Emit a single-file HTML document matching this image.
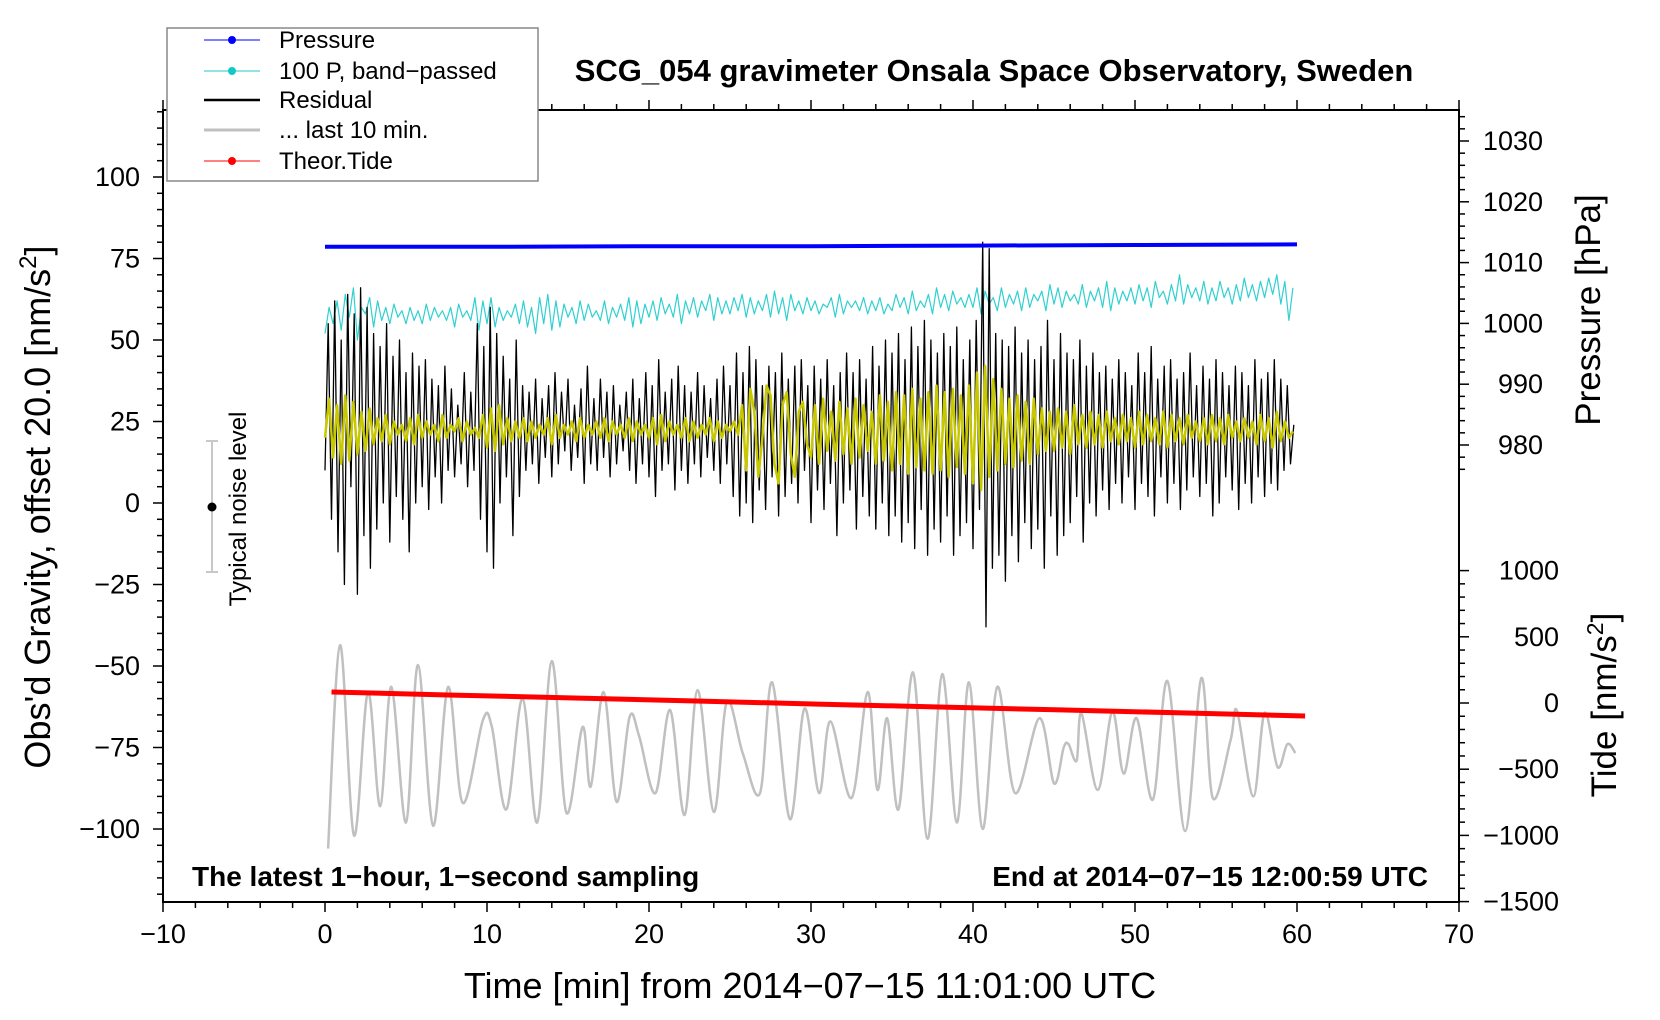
<!DOCTYPE html>
<html><head><meta charset="utf-8">
<style>
html,body{margin:0;padding:0;background:#fff;}
svg{display:block;font-family:"Liberation Sans",Arial,sans-serif;}
</style></head>
<body>
<svg id="chart" width="1660" height="1020" viewBox="0 0 1660 1020">
  <text x="994" y="81" font-size="31" font-weight="bold" text-anchor="middle">SCG_054 gravimeter Onsala Space Observatory, Sweden</text>
  <g id="ticks"></g>
  <g id="series"></g>
  <rect x="163" y="110" width="1296" height="792" fill="none" stroke="#000" stroke-width="2"/>
  <text transform="translate(50,507) rotate(-90)" font-size="36" text-anchor="middle">Obs'd Gravity, offset 20.0 [nm/s<tspan font-size="24" dy="-14">2</tspan><tspan dy="14">]</tspan></text>
  <text transform="translate(1600,310) rotate(-90)" font-size="35" text-anchor="middle">Pressure [hPa]</text>
  <text transform="translate(1616,705) rotate(-90)" font-size="35" text-anchor="middle">Tide [nm/s<tspan font-size="23" dy="-13">2</tspan><tspan dy="13">]</tspan></text>
  <text x="810" y="998" font-size="36" text-anchor="middle">Time [min] from 2014−07−15 11:01:00 UTC</text>
  <text x="192" y="886" font-size="28" font-weight="bold">The latest 1−hour, 1−second sampling</text>
  <text x="1428" y="886" font-size="28" font-weight="bold" text-anchor="end">End at 2014−07−15 12:00:59 UTC</text>
  <g>
    <line x1="212" y1="441" x2="212" y2="572" stroke="#c8c8c8" stroke-width="2"/>
    <line x1="206" y1="441" x2="218" y2="441" stroke="#c8c8c8" stroke-width="2"/>
    <line x1="206" y1="572" x2="218" y2="572" stroke="#c8c8c8" stroke-width="2"/>
    <circle cx="212" cy="507" r="4.5" fill="#000"/>
    <text transform="translate(246,509) rotate(-90)" font-size="24" text-anchor="middle">Typical noise level</text>
  </g>
  <g>
    <rect x="167" y="28" width="371" height="153" fill="#fff" stroke="#888" stroke-width="1.5"/>
    <g><line x1="204" y1="40" x2="260" y2="40" stroke="#00f" stroke-width="1"/><circle cx="232" cy="40" r="4" fill="#00f"/><text x="279" y="48" font-size="24">Pressure</text></g>
    <g><line x1="204" y1="71" x2="260" y2="71" stroke="#20c8c8" stroke-width="1"/><circle cx="232" cy="71" r="4" fill="#10c8c8"/><text x="279" y="79" font-size="24">100 P, band−passed</text></g>
    <g><line x1="204" y1="100" x2="260" y2="100" stroke="#000" stroke-width="2.5"/><text x="279" y="108" font-size="24">Residual</text></g>
    <g><line x1="204" y1="130" x2="260" y2="130" stroke="#c0c0c0" stroke-width="3"/><text x="279" y="138" font-size="24">... last 10 min.</text></g>
    <g><line x1="204" y1="161" x2="260" y2="161" stroke="#f00" stroke-width="1"/><circle cx="232" cy="161" r="4" fill="#f00"/><text x="279" y="169" font-size="24">Theor.Tide</text></g>
  </g>
</svg>
<script>
// ---- data ----
const xTicks = [-10,0,10,20,30,40,50,60,70];
const yTicks = [-100,-75,-50,-25,0,25,50,75,100];
const pTicks = [980,990,1000,1010,1020,1030];
const tideTicks = [-1500,-1000,-500,0,500,1000];
const residualStep = 0.2;
const residual = [
10,55,-5,62,-15,50,-25,64,5,58,
-28,66,-10,60,-20,52,-8,48,0,55,
-12,45,2,50,-5,40,-15,46,0,42,
5,44,-2,38,8,36,0,42,10,35,
8,30,12,40,5,34,10,55,-5,48,
-15,60,-20,52,0,45,8,38,-10,50,
2,36,10,34,12,38,6,32,14,36,
8,40,12,34,16,38,10,30,14,35,
6,42,12,32,10,38,14,34,8,36,
12,30,16,34,10,38,6,32,12,40,
8,36,2,44,10,34,12,38,4,42,
10,36,6,34,12,40,8,36,14,32,
10,38,6,42,12,36,2,46,-4,40,
0,48,-6,44,4,36,-2,42,8,40,
-4,46,2,38,6,42,0,44,10,36,
-6,42,4,38,-2,44,6,36,-10,40,
0,46,4,40,-8,44,2,38,-4,48,
-8,42,0,50,-10,46,-4,52,-12,44,
-6,54,-14,48,-2,56,-16,50,-8,46,
-12,52,-4,48,-16,54,-10,44,-6,50,
-14,56,-2,80,-38,78,-20,52,-16,50,
-24,48,-10,54,-18,46,-6,50,-14,44,
-8,48,-20,56,-4,44,-16,52,-10,46,
-6,44,2,50,-12,42,0,46,-4,40,
4,42,-2,38,6,44,0,40,8,36,
-2,46,6,40,2,48,-4,38,8,42,
0,44,6,38,-2,40,4,46,8,36,
2,42,6,38,-4,44,0,40,8,36,
4,42,-2,40,6,36,0,44,8,38,
2,40,6,44,4,38,10,36,12,24];
const yellowStep = 0.25;
const yellow = [
20,32,14,30,12,33,13,31,15,28,
16,29,18,26,19,27,18,25,21,24,
19,26,18,27,20,25,21,24,19,27,
20,24,22,26,19,25,21,23,20,27,
17,29,16,30,18,26,19,25,20,26,
19,25,20,24,21,26,18,27,20,24,
21,25,19,26,20,24,21,25,20,26,
19,25,21,24,20,26,19,25,21,24,
20,26,18,27,19,25,21,24,20,26,
19,25,20,24,21,26,19,25,20,24,
22,25,21,30,10,35,28,8,20,36,
33,12,6,30,34,15,8,28,31,18,
14,30,12,32,16,28,13,31,15,29,
12,32,14,30,16,28,12,33,13,31,
10,34,12,33,9,35,11,32,10,34,
9,36,10,34,8,35,11,33,9,36,
6,40,4,42,8,38,10,35,12,32,
11,33,13,31,12,32,15,29,16,28,
16,29,17,28,15,30,18,27,17,28,
18,27,17,28,19,26,18,27,19,26,
17,28,18,27,19,26,18,28,17,27,
19,26,18,27,20,25,19,26,18,27,
19,26,18,27,20,25,19,26,20,25,
18,27,19,26,17,28,19,25,20,22];
const cyanStep = 0.25;
const cyan = [
52,60,55,62,53,64,57,66,50,60,
58,63,54,62,56,60,55,61,57,59,
55,60,56,59,55,61,56,60,57,59,
56,60,54,61,57,59,56,63,53,62,
55,63,54,60,56,59,57,61,55,62,
54,60,52,63,55,64,53,62,54,61,
57,60,55,62,56,61,57,59,56,62,
55,60,57,61,56,63,54,62,55,61,
57,62,56,63,58,61,57,64,55,62,
58,63,57,62,59,64,56,63,58,62,
58,63,59,64,57,63,58,62,59,64,
57,65,58,63,56,64,59,62,58,63,
59,62,58,61,60,63,57,64,58,62,
60,62,59,63,58,62,59,63,58,61,
59,64,60,63,58,65,59,62,60,64,
58,66,60,64,59,65,61,63,60,64,
60,66,58,65,61,63,59,66,60,64,
61,65,59,66,60,64,62,65,59,67,
61,66,60,65,62,64,61,67,60,65,
62,66,60,68,59,66,61,65,62,66,
61,67,62,66,60,68,63,65,61,67,
62,70,61,67,63,66,62,68,61,66,
62,68,63,66,61,67,62,69,63,67,
62,68,63,69,64,70,61,68,56,66];
const grayTimes = [0.19,0.93,1.79,2.65,3.4,4.1,5.0,5.74,6.67,7.6,8.5,9.75,10.3,11.2,12.2,13.1,14.0,14.9,15.9,16.4,17.2,18.0,18.8,19.4,20.4,21.3,22.2,23.0,24.0,24.8,25.8,26.85,27.6,28.7,29.6,30.5,31.2,32.5,33.5,34.1,34.7,35.4,36.3,37.2,38.1,39.0,39.75,40.6,41.5,42.6,44.1,45.0,45.6,45.9,46.4,46.7,47.7,48.6,49.3,50.1,51.1,52.0,53.1,54.1,54.8,55.9,56.3,57.3,58.0,58.8,59.4,59.9];
const grayValues = [-106,-43.6,-102,-58,-93,-56.4,-98,-49.7,-99,-56.4,-92,-66.6,-68.7,-94,-60,-98,-48.5,-95,-68.7,-87,-58,-91.7,-65.6,-71.7,-89,-63.5,-95.7,-57.4,-94.8,-61,-77,-89,-55,-97,-63,-89,-67,-90.5,-58,-88,-66,-94,-52,-103,-52.5,-98,-55,-100,-56.4,-89,-66,-86,-75,-74,-79,-64.5,-88,-64,-83,-66,-91,-54.6,-100.6,-53.7,-90.5,-72.7,-63.8,-90,-64.4,-81,-74,-76.7];
const pressureTimes = [0,10,20,30,40,50,60];
const pressureValues = [1012.6,1012.6,1012.7,1012.7,1012.8,1012.9,1013.0];
const tideTimes = [0.4,7.9,15.4,22.9,30.4,37.9,45.4,52.9,60.5];
const tideValues = [83,60,38,15,-8,-30,-52,-75,-98];

// ---- scales ----
const X = t => 325 + t*16.2;
const Y = v => 503 - v*3.26;
const P = p => 141 + (1030-p)*6.08;
const T = v => 703 - v*0.1324;
const NS = 'http://www.w3.org/2000/svg';
const ticksG = document.getElementById('ticks');
const seriesG = document.getElementById('series');
function mk(tag, parent){ const e=document.createElementNS(NS,tag); parent.appendChild(e); return e; }
function line(p,x1,y1,x2,y2,w){ const l=mk('line',p); l.setAttribute('x1',x1);l.setAttribute('y1',y1);l.setAttribute('x2',x2);l.setAttribute('y2',y2);l.setAttribute('stroke','#000');l.setAttribute('stroke-width',w||1.5); return l;}
function text(p,x,y,s,anchor){ const t=mk('text',p); t.setAttribute('x',x);t.setAttribute('y',y);t.setAttribute('font-size','27');t.setAttribute('text-anchor',anchor);t.textContent=s; return t;}
const fmt = v => String(v).replace('-','−');

for(let t=-10;t<=70;t+=2){ const big=(t%10===0); const l=line(ticksG,X(t),902,X(t),902+(big?10:6),1.5);
  
  
  const l2=line(ticksG,X(t),110,X(t),110-(big?10:6),1.5);
  
   }
xTicks.forEach(t=>{ const e=text(ticksG,X(t),943,fmt(t),'middle');
  
   });
for(let v=-120;v<=120;v+=5){ const big=(v%25===0); const l=line(ticksG,163,Y(v),163-(big?10:6),Y(v),1.5);
  
   }
yTicks.forEach(v=>{ const e=text(ticksG,140,Y(v)+9,fmt(v),'end');
  
   });
for(let p=976;p<=1034;p+=2){ const big=(p%10===0); const l=line(ticksG,1459,P(p),1459+(big?10:6),P(p),1.5);
  
   }
pTicks.forEach(p=>{ const e=text(ticksG,1543,P(p)+9,fmt(p),'end');
  
   });
for(let v=-1500;v<=1000;v+=100){ const big=(v%500===0); const l=line(ticksG,1459,T(v),1459+(big?10:6),T(v),1.5);
  
   }
tideTicks.forEach(v=>{ const e=text(ticksG,1559,T(v)+9,fmt(v),'end');
  
   });

function poly(pts,color,w,name){ const p=mk('polyline',seriesG); p.setAttribute('points',pts.map(a=>a[0].toFixed(1)+','+a[1].toFixed(1)).join(' ')); p.setAttribute('fill','none'); p.setAttribute('stroke',color); p.setAttribute('stroke-width',w); p.setAttribute('stroke-linejoin','round');
  
  
  return p; }
function smoothPath(pts,color,w,name){ let d='M'+pts[0][0]+','+pts[0][1];
  for(let i=0;i<pts.length-1;i++){ const p0=pts[Math.max(i-1,0)],p1=pts[i],p2=pts[i+1],p3=pts[Math.min(i+2,pts.length-1)];
    const c1x=p1[0]+(p2[0]-p0[0])/6, c1y=p1[1]+(p2[1]-p0[1])/6, c2x=p2[0]-(p3[0]-p1[0])/6, c2y=p2[1]-(p3[1]-p1[1])/6;
    d+=' C'+c1x.toFixed(1)+','+c1y.toFixed(1)+' '+c2x.toFixed(1)+','+c2y.toFixed(1)+' '+p2[0].toFixed(1)+','+p2[1].toFixed(1); }
  const p=mk('path',seriesG); p.setAttribute('d',d); p.setAttribute('fill','none'); p.setAttribute('stroke',color); p.setAttribute('stroke-width',w);
  
  
  return p; }

smoothPath(grayTimes.map((t,i)=>[X(t),Y(grayValues[i])]),'#c0c0c0',2.5,'last-10-min-line');
poly(tideTimes.map((t,i)=>[X(t),T(tideValues[i])]),'#f00',5,'theor-tide-line');
poly(cyan.map((v,i)=>[X(i*cyanStep),Y(v)]),'#30d0d0',1.2,'band-passed-pressure-line');
poly(residual.map((v,i)=>[X(i*residualStep),Y(v)]),'#000',1.3,'residual-line');
poly(yellow.map((v,i)=>[X(i*yellowStep),Y(v)]),'#c8c800',2.5,'residual-last-10-min-line');
poly(pressureTimes.map((t,i)=>[X(t),P(pressureValues[i])]),'#0000ff',4,'pressure-line');
</script>
</body></html>
